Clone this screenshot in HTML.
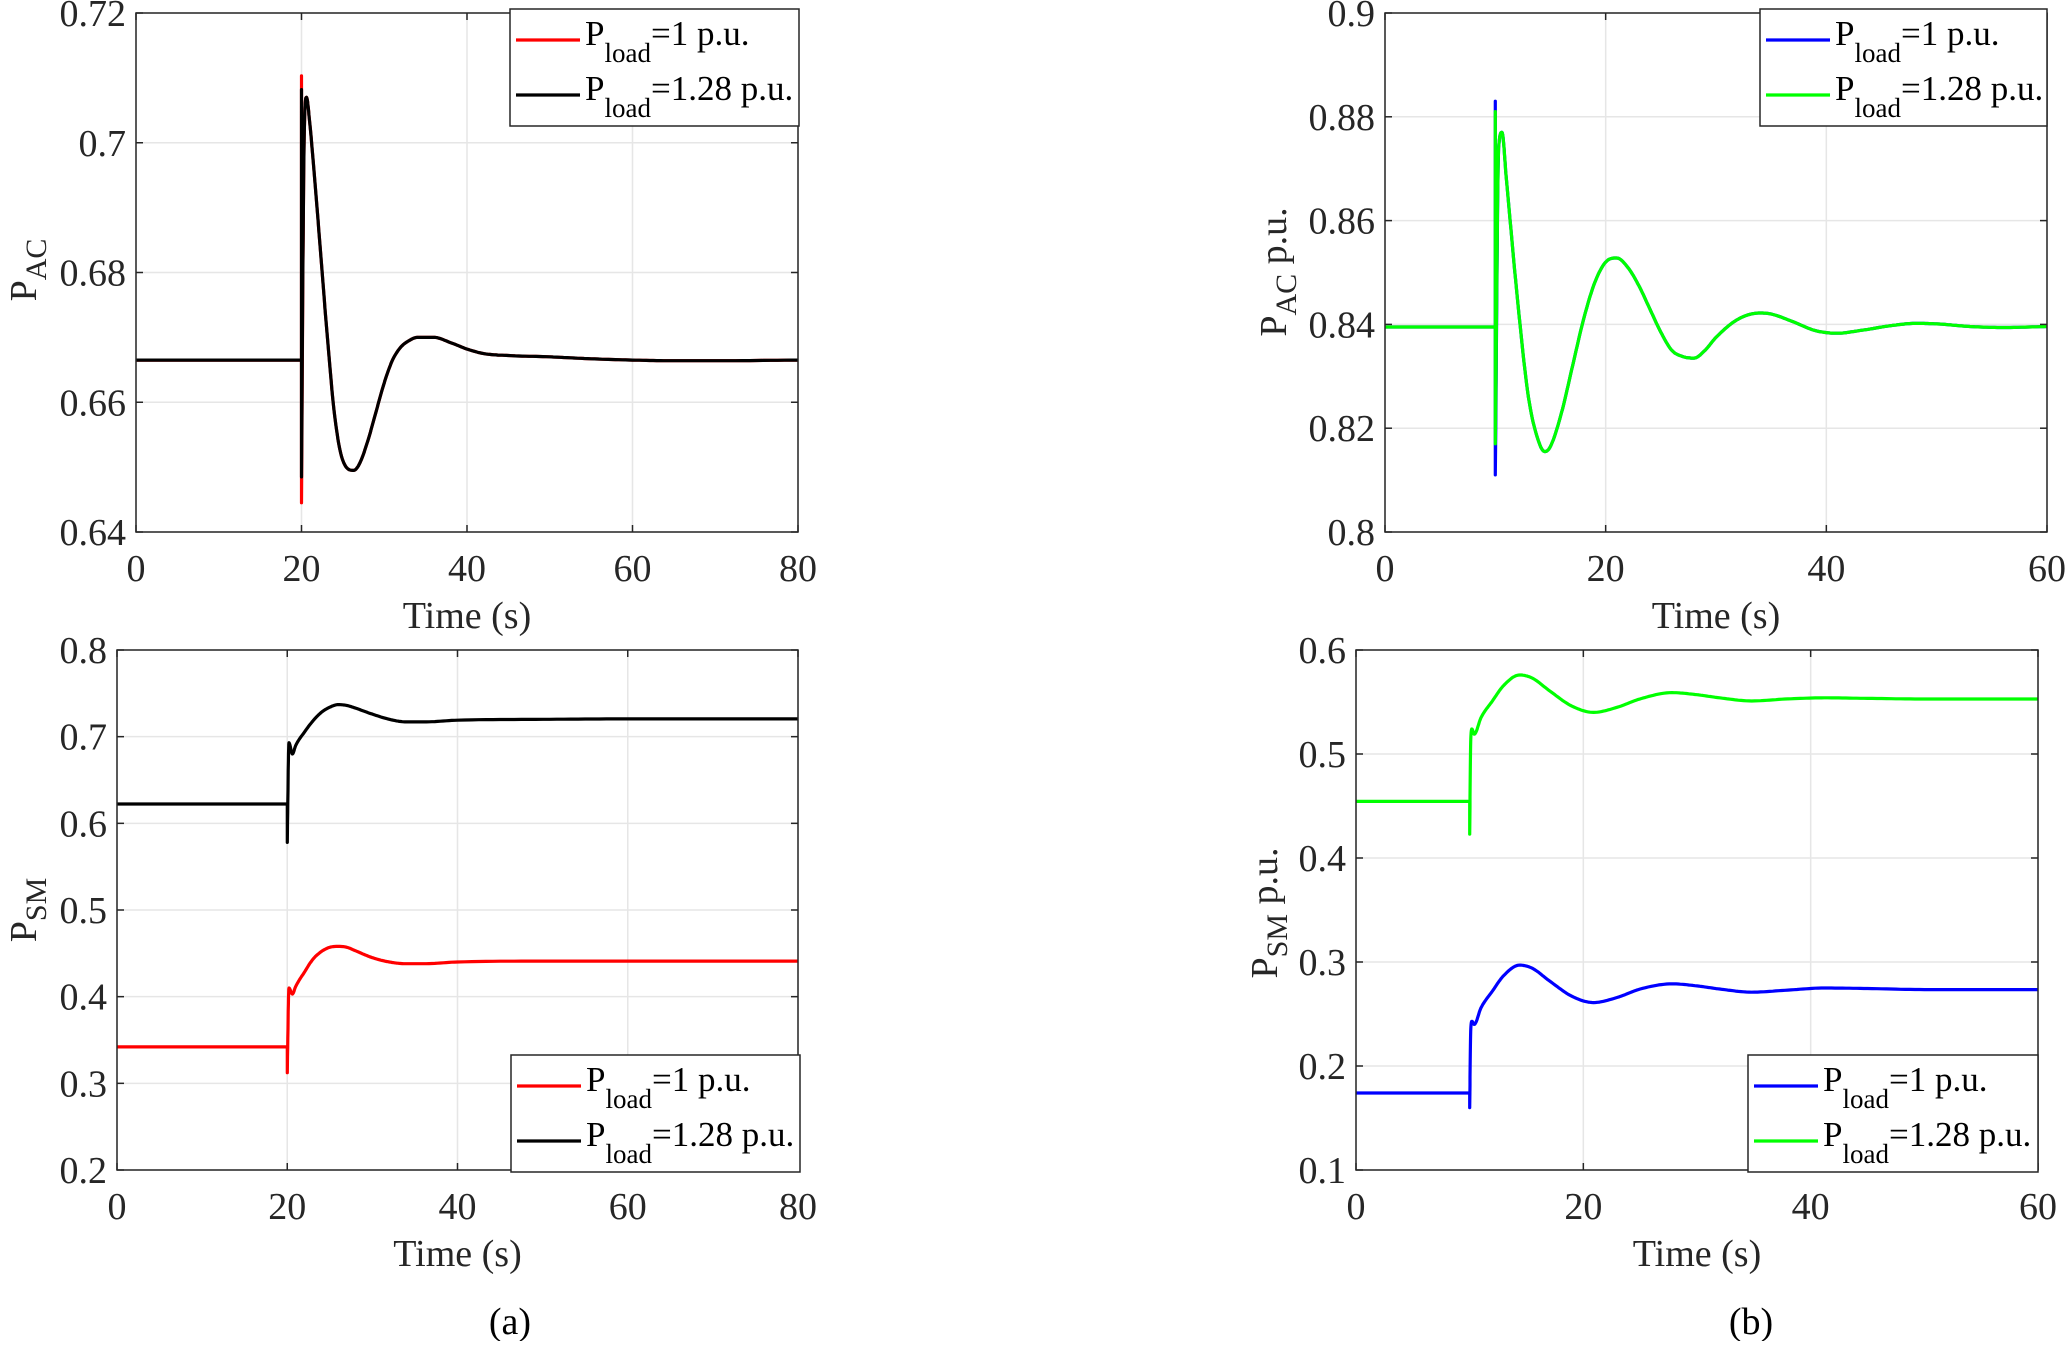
<!DOCTYPE html>
<html><head><meta charset="utf-8"><style>
html,body{margin:0;padding:0;background:#fff;}
svg, svg text{font-family:"Liberation Serif","DejaVu Serif",serif;}
</style></head><body>
<svg id="fig" width="2067" height="1341" viewBox="0 0 2067 1341" xmlns="http://www.w3.org/2000/svg" font-family="Liberation Serif, serif">
<rect x="0" y="0" width="2067" height="1341" fill="#fff"/>
<text x="510" y="1334" font-size="38" font-family="Liberation Serif, serif" text-anchor="middle" fill="#000">(a)</text>
<text x="1751" y="1334" font-size="38" font-family="Liberation Serif, serif" text-anchor="middle" fill="#000">(b)</text>
</svg>
<script>
// ---- Panel (a) top: P_AC ----
const tA1 = [0,20,20,20,20.3,20.6,21,22,23,24,25,26.3,27,28,29,30,31,32,33,34,36,38,40,42,45,50,55,60,65,70,80];
const acA_red = [0.6665,0.6665,0.7103,0.6445,0.699,0.707,0.703,0.688,0.672,0.658,0.651,0.6495,0.6505,0.654,0.6585,0.663,0.6665,0.6685,0.6695,0.670,0.670,0.6692,0.6682,0.6675,0.6672,0.6670,0.6667,0.6665,0.6664,0.6664,0.6665];
const acA_black = [0.6665,0.6665,0.7082,0.6485,0.699,0.707,0.703,0.688,0.672,0.658,0.651,0.6495,0.6505,0.654,0.6585,0.663,0.6665,0.6685,0.6695,0.670,0.670,0.6692,0.6682,0.6675,0.6672,0.6670,0.6667,0.6665,0.6664,0.6664,0.6665];
const ticksA_x = [0,20,40,60,80];
const ticksA1_y = [0.64,0.66,0.68,0.70,0.72];
const ticksA1_lbl = ["0.64","0.66","0.68","0.7","0.72"];

// ---- Panel (a) bottom: P_SM ----
const tA2 = [0,20,20,20.2,20.6,21,22,23,24,25,26,27,28,30,32,34,36,40,50,60,80];
const smA_red = [0.342,0.342,0.3123,0.41,0.403,0.412,0.428,0.443,0.452,0.457,0.458,0.457,0.453,0.445,0.440,0.438,0.438,0.440,0.441,0.441,0.441];
const smA_black = [0.6223,0.6223,0.578,0.693,0.680,0.690,0.705,0.718,0.728,0.734,0.737,0.736,0.733,0.726,0.720,0.717,0.717,0.719,0.720,0.7205,0.7205];
const ticksA2_y = [0.2,0.3,0.4,0.5,0.6,0.7,0.8];
const ticksA2_lbl = ["0.2","0.3","0.4","0.5","0.6","0.7","0.8"];

// ---- Panel (b) top: P_AC ----
const tB1 = [0,10,10,10,10.3,10.6,11,12,13,14,14.5,15,16,17,18,19,20,21,22,23,24,25,26,27,28,29,30,32,34,35,37,39,41,43,46,48,50,53,56,60];
const acB_blue = [0.8395,0.8395,0.883,0.811,0.874,0.877,0.868,0.845,0.826,0.817,0.8155,0.8165,0.823,0.832,0.841,0.848,0.852,0.8528,0.851,0.8475,0.843,0.8385,0.835,0.8338,0.8335,0.835,0.8375,0.841,0.8422,0.842,0.8405,0.8388,0.8383,0.8388,0.8398,0.8402,0.8401,0.8396,0.8394,0.8396];
const acB_green = [0.8395,0.8395,0.881,0.817,0.874,0.877,0.868,0.845,0.826,0.817,0.8155,0.8165,0.823,0.832,0.841,0.848,0.852,0.8528,0.851,0.8475,0.843,0.8385,0.835,0.8338,0.8335,0.835,0.8375,0.841,0.8422,0.842,0.8405,0.8388,0.8383,0.8388,0.8398,0.8402,0.8401,0.8396,0.8394,0.8396];
const ticksB_x = [0,20,40,60];
const ticksB1_y = [0.80,0.82,0.84,0.86,0.88,0.90];
const ticksB1_lbl = ["0.8","0.82","0.84","0.86","0.88","0.9"];

// ---- Panel (b) bottom: P_SM ----
const tB2 = [0,10,10,10.1,10.2,10.4,11,12,13,14.4,15.5,17,19,20.9,23,25,27.8,30,32,34.8,38,41.2,45,50,60];
const smB_blue = [0.174,0.174,0.16,0.236,0.243,0.240,0.256,0.272,0.287,0.297,0.294,0.282,0.267,0.261,0.266,0.274,0.279,0.277,0.274,0.271,0.273,0.275,0.2745,0.2735,0.2735];
const smB_green = [0.4544,0.4544,0.423,0.515,0.524,0.519,0.535,0.551,0.566,0.576,0.573,0.561,0.546,0.540,0.545,0.553,0.559,0.557,0.554,0.551,0.553,0.554,0.5535,0.5529,0.5529];
const ticksB2_y = [0.1,0.2,0.3,0.4,0.5,0.6];
const ticksB2_lbl = ["0.1","0.2","0.3","0.4","0.5","0.6"];

const NS = "http://www.w3.org/2000/svg";
const svg = document.getElementById('fig');
const FF = 'Liberation Serif, serif';
function mk(tag, attrs, parent){
  const e = document.createElementNS(NS, tag);
  for (const k in attrs) e.setAttribute(k, attrs[k]);
  if (tag === 'text') e.setAttribute('font-family', FF);
  (parent||svg).appendChild(e);
  return e;
}

// monotone cubic interpolation on strictly increasing runs
function smoothPoints(ts, vs){
  const out = [];
  let i = 0;
  while (i < ts.length){
    let j = i;
    while (j+1 < ts.length && ts[j+1] > ts[j]) j++;
    const x = ts.slice(i, j+1), y = vs.slice(i, j+1), n = x.length;
    if (n < 3){ for (let k=0;k<n;k++) out.push([x[k],y[k]]); }
    else {
      const d = [], m = new Array(n);
      for (let k=0;k<n-1;k++) d.push((y[k+1]-y[k])/(x[k+1]-x[k]));
      m[0]=d[0]; m[n-1]=d[n-2];
      for (let k=1;k<n-1;k++) m[k] = (d[k-1]*d[k] <= 0) ? 0 : (d[k-1]+d[k])/2;
      for (let k=0;k<n-1;k++){
        if (d[k]===0){ m[k]=0; m[k+1]=0; continue; }
        const a=m[k]/d[k], b=m[k+1]/d[k], s=a*a+b*b;
        if (s>9){ const tau=3/Math.sqrt(s); m[k]=tau*a*d[k]; m[k+1]=tau*b*d[k]; }
      }
      for (let k=0;k<n-1;k++){
        const h = x[k+1]-x[k], steps = 12;
        for (let s=0;s<steps;s++){
          const u = s/steps, h00=2*u*u*u-3*u*u+1, h10=u*u*u-2*u*u+u, h01=-2*u*u*u+3*u*u, h11=u*u*u-u*u;
          out.push([x[k]+u*h, h00*y[k]+h10*h*m[k]+h01*y[k+1]+h11*h*m[k+1]]);
        }
      }
      out.push([x[n-1], y[n-1]]);
    }
    i = j+1;
  }
  return out;
}

function panel(p){
  const g = mk('g', {});
  
  
  const sx = v => p.L + (v - p.xmin)/(p.xmax - p.xmin)*(p.R - p.L);
  const sy = v => p.B - (v - p.ymin)/(p.ymax - p.ymin)*(p.B - p.T);
  p.xt.forEach(v => {
    const l = mk('line', {x1:sx(v), x2:sx(v), y1:p.T, y2:p.B, stroke:'#e6e6e6', 'stroke-width':1.5}, g);
    
    
  });
  p.yt.forEach(v => {
    const l = mk('line', {x1:p.L, x2:p.R, y1:sy(v), y2:sy(v), stroke:'#e6e6e6', 'stroke-width':1.5}, g);
    
    
  });
  p.series.forEach(s => {
    const pts = smoothPoints(s.t, s.v).map(q => sx(q[0]).toFixed(1)+','+sy(q[1]).toFixed(1)).join(' ');
    const pl = mk('polyline', {points:pts, fill:'none', stroke:s.color, 'stroke-width':3.2, 'stroke-linejoin':'round'}, g);
    
    
  });
  const box = mk('rect', {x:p.L, y:p.T, width:p.R-p.L, height:p.B-p.T, fill:'none', stroke:'#262626', 'stroke-width':1.5}, g);
  
  
  p.xt.forEach(v => {
    mk('line', {x1:sx(v), x2:sx(v), y1:p.B, y2:p.B-7, stroke:'#262626', 'stroke-width':1.5}, g);
    mk('line', {x1:sx(v), x2:sx(v), y1:p.T, y2:p.T+7, stroke:'#262626', 'stroke-width':1.5}, g);
    const t = mk('text', {x:sx(v), y:p.B+49, 'font-size':38, 'text-anchor':'middle', fill:'#262626'}, g);
    t.textContent = String(v);
    
    
  });
  p.yt.forEach((v,i) => {
    mk('line', {x1:p.L, x2:p.L+7, y1:sy(v), y2:sy(v), stroke:'#262626', 'stroke-width':1.5}, g);
    mk('line', {x1:p.R, x2:p.R-7, y1:sy(v), y2:sy(v), stroke:'#262626', 'stroke-width':1.5}, g);
    const t = mk('text', {x:p.L-10, y:sy(v)+13, 'font-size':38, 'text-anchor':'end', fill:'#262626'}, g);
    t.textContent = p.ylbl[i];
    
    
  });
  const xt = mk('text', {x:(p.L+p.R)/2, y:p.B+96, 'font-size':38, 'text-anchor':'middle', fill:'#262626'}, g);
  xt.textContent = 'Time (s)';
  
  
  const yt = mk('text', {transform:'translate('+(p.ytx)+','+(p.yty)+') rotate(-90)', 'font-size':38, 'text-anchor':'middle', fill:'#262626'}, g);
  
  
  const y1 = mk('tspan', {}, yt); y1.textContent = 'P';
  const y2 = mk('tspan', {dy:10, 'font-size':30}, yt); y2.textContent = p.ysub;
  if (p.ysuf){ const y3 = mk('tspan', {dy:-10}, yt); y3.textContent = p.ysuf; }
  const lg = mk('g', {}, g);
  
  
  mk('rect', {x:p.lx, y:p.ly, width:p.lw, height:117, fill:'#fff', stroke:'#262626', 'stroke-width':1.5}, lg);
  p.series.forEach((s,i) => {
    const yo = p.ly + 31 + i*55;
    const e = mk('g', {}, lg);
    
    
    mk('line', {x1:p.lx+6, x2:p.lx+70, y1:yo, y2:yo, stroke:s.color, 'stroke-width':3.2}, e);
    const tx = mk('text', {x:p.lx+75, y:yo+5, 'font-size':35, fill:'#000'}, e);
    const a = mk('tspan', {}, tx); a.textContent = 'P';
    const b = mk('tspan', {dy:17, 'font-size':27}, tx); b.textContent = 'load';
    const c = mk('tspan', {dy:-17}, tx); c.textContent = s.label;
  });
}

panel({name:'panel-a-pac', L:136, R:798, T:13, B:532, xmin:0, xmax:80, ymin:0.64, ymax:0.72,
  xt:ticksA_x, yt:ticksA1_y, ylbl:ticksA1_lbl, ytx:36, yty:270, ysub:'AC', ysuf:'',
  lx:510, ly:9, lw:289,
  series:[{name:'series-pload-1', t:tA1, v:acA_red, color:'#ff0000', label:'=1 p.u.'},
          {name:'series-pload-1.28', t:tA1, v:acA_black, color:'#000000', label:'=1.28 p.u.'}]});
panel({name:'panel-a-psm', L:117, R:798, T:650, B:1170, xmin:0, xmax:80, ymin:0.2, ymax:0.8,
  xt:ticksA_x, yt:ticksA2_y, ylbl:ticksA2_lbl, ytx:36, yty:910, ysub:'SM', ysuf:'',
  lx:511, ly:1055, lw:289,
  series:[{name:'series-pload-1', t:tA2, v:smA_red, color:'#ff0000', label:'=1 p.u.'},
          {name:'series-pload-1.28', t:tA2, v:smA_black, color:'#000000', label:'=1.28 p.u.'}]});
panel({name:'panel-b-pac', L:1385, R:2047, T:13, B:532, xmin:0, xmax:60, ymin:0.8, ymax:0.9,
  xt:ticksB_x, yt:ticksB1_y, ylbl:ticksB1_lbl, ytx:1286, yty:272, ysub:'AC', ysuf:' p.u.',
  lx:1760, ly:9, lw:287,
  series:[{name:'series-pload-1', t:tB1, v:acB_blue, color:'#0000ff', label:'=1 p.u.'},
          {name:'series-pload-1.28', t:tB1, v:acB_green, color:'#00ff00', label:'=1.28 p.u.'}]});
panel({name:'panel-b-psm', L:1356, R:2038, T:650, B:1170, xmin:0, xmax:60, ymin:0.1, ymax:0.6,
  xt:ticksB_x, yt:ticksB2_y, ylbl:ticksB2_lbl, ytx:1277, yty:913, ysub:'SM', ysuf:' p.u.',
  lx:1748, ly:1055, lw:290,
  series:[{name:'series-pload-1', t:tB2, v:smB_blue, color:'#0000ff', label:'=1 p.u.'},
          {name:'series-pload-1.28', t:tB2, v:smB_green, color:'#00ff00', label:'=1.28 p.u.'}]});
</script>
</body></html>
